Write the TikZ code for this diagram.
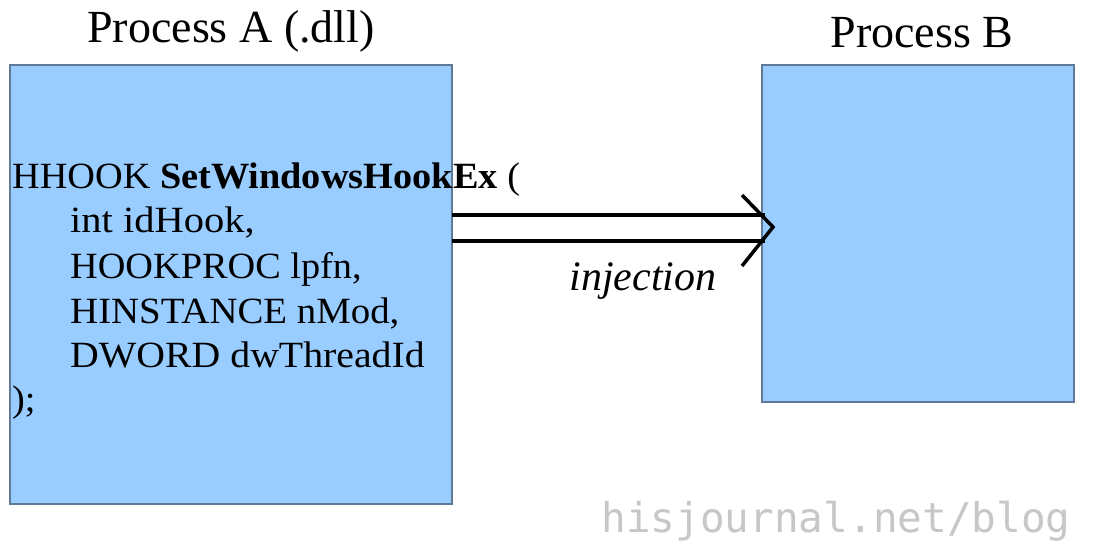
\documentclass[tikz,border=0pt]{standalone}
\usetikzlibrary{calc}
\usepackage{fontspec}
\setmainfont{Liberation Serif}
\newfontfamily\wmfont{DejaVu Sans Mono}
\definecolor{boxfill}{HTML}{99CCFF}
\definecolor{boxline}{HTML}{5E7A96}
\begin{document}
\begin{tikzpicture}[x=1pt,y=-1pt,
  procbox/.style={draw=boxline, line width=1.2pt, fill=boxfill},
  title/.style={inner sep=0pt, anchor=base, font=\fontsize{46}{52}\selectfont},
  code/.style={inner sep=0pt, anchor=base west, font=\fontsize{37}{44}\selectfont},
  flow/.style={line width=3.5pt, black},
]
\useasboundingbox (0,0) rectangle (1107,553);
\fill[white] (0,0) rectangle (1107,553);
% boxes
\draw[procbox] (10,65) rectangle (452,504);
\draw[procbox] (762,65) rectangle (1074,402);
\coordinate (A) at (452,228);
\coordinate (B) at (762,228);
% titles
\node[title] (tA) at (231,43) {Process A (.dll)};
\node[title] (tB) at (922,48) {Process B};
% code
\node[code] (l1) at (12,189) {\scalebox{1.035}[1]{HHOOK \textbf{SetWindowsHookEx} (}};
\node[code] (l2) at (70,233) {\scalebox{1.095}[1]{int idHook,}};
\node[code] (l3) at (70,278) {\scalebox{1.035}[1]{HOOKPROC lpfn,}};
\node[code] (l4) at (70,323) {\scalebox{1.05}[1]{HINSTANCE nMod,}};
\node[code] (l5) at (70,367) {\scalebox{1.075}[1]{DWORD dwThreadId}};
\node[code] (l6) at (12,411) {\scalebox{1.035}[1]{);}};
% arrow
\coordinate (tip) at ($(B)+(11,-1)$);
\draw[flow] (A |- 0,215) -- ($(B |- 0,215)+(3,0)$);
\draw[flow] (A |- 0,241) -- ($(B |- 0,241)+(3,0)$);
\draw[flow, line join=miter] ($(tip)+(-31,-32)$) -- (tip) -- ($(tip)+(-31,39)$);
\node[inner sep=0pt, anchor=base, font=\fontsize{42}{48}\selectfont\itshape] (inj) at (643,290) {injection};
% watermark
\node[inner sep=0pt, anchor=base, text=black!22, font=\wmfont\fontsize{41}{46}\selectfont] (wm) at (836,532) {hisjournal.net/blog};
\end{tikzpicture}
\end{document}
